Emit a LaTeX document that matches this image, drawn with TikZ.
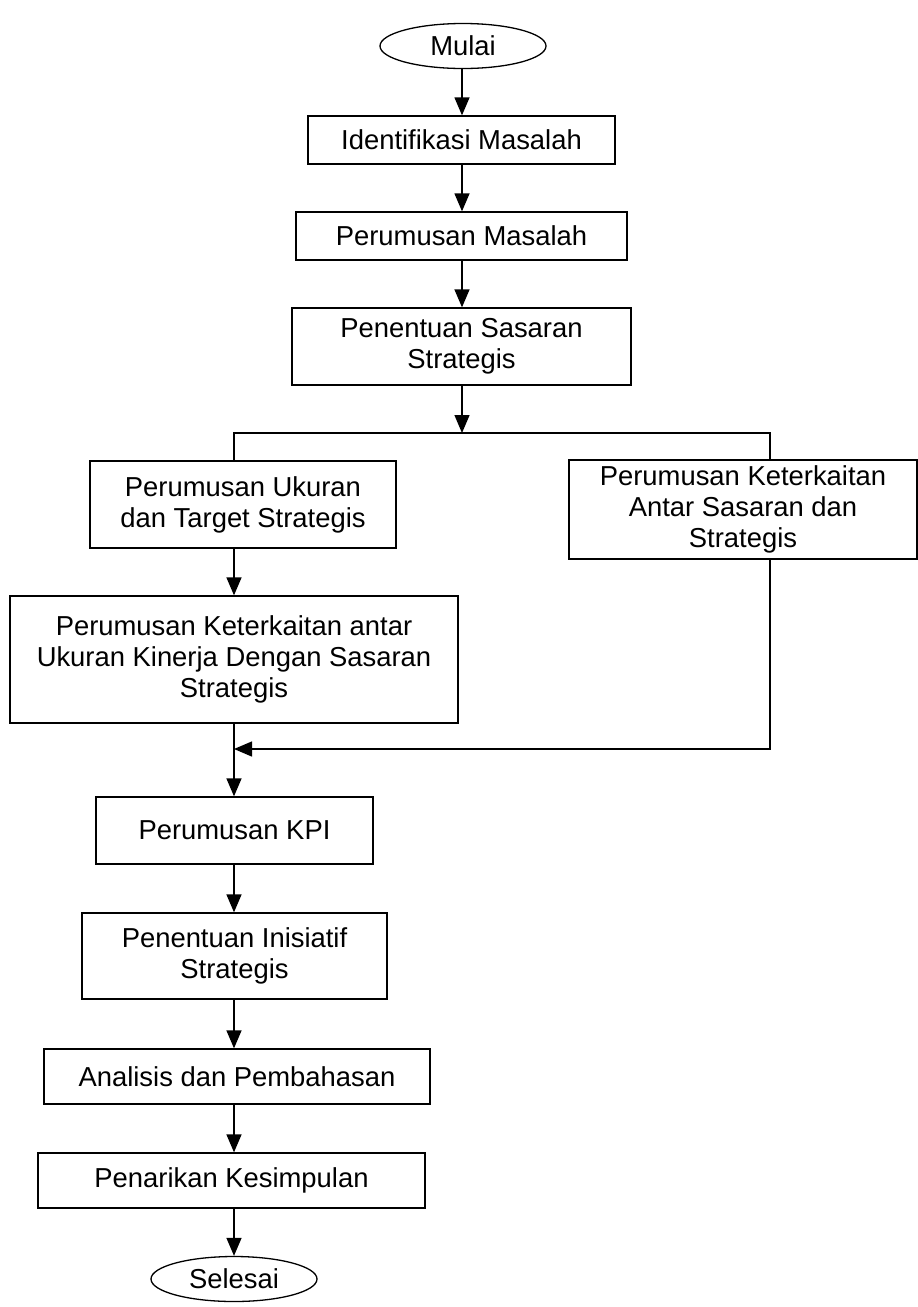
\documentclass[tikz,border=0pt]{standalone}
\usepackage{fontspec}
\setmainfont{Liberation Sans}
\usetikzlibrary{shapes.geometric,arrows.meta}
\tikzset{
  base/.style={draw, line width=1.3pt, inner sep=0pt, align=center,
    font=\fontsize{27.4}{31}\selectfont},
  procbox/.style={base, rectangle},
  terminal/.style={base, ellipse, minimum width=166pt, minimum height=45pt},
  flow/.style={line width=1.3pt, -{Triangle[length=18pt,width=15pt]}},
  link/.style={line width=1.3pt}
}
\begin{document}
\begin{tikzpicture}[x=1pt,y=-1pt]
\useasboundingbox (0,0) rectangle (918,1307);

% vertical guide lines for the connectors
\coordinate (topspine) at (462,0);
\coordinate (spine) at (234,0);
\coordinate (rspine) at (770,0);

% start and upper chain
\node[terminal] (mulai) at (463,46) {Mulai};
\node[procbox, minimum width=307pt, minimum height=48pt] (idm) at (461.5,140) {Identifikasi Masalah};
\node[procbox, minimum width=331pt, minimum height=48pt] (pm) at (461.5,236) {Perumusan Masalah};
\node[procbox, minimum width=339pt, minimum height=77pt] (pss) at (461.5,346.5) {Penentuan Sasaran\\Strategis};

% two branches
\node[procbox, minimum width=306pt, minimum height=87pt] (pum) at (243,504.5) {Perumusan Ukuran\\dan Target Strategis};
\node[procbox, minimum width=348pt, minimum height=99pt] (pka) at (743,509.5) {Perumusan Keterkaitan\\Antar Sasaran dan\\Strategis};
\node[procbox, minimum width=448pt, minimum height=127pt] (pkk) at (234,659.5) {Perumusan Keterkaitan antar\\Ukuran Kinerja Dengan Sasaran\\Strategis};

% lower chain
\node[procbox, minimum width=277pt, minimum height=67pt] (kpi) at (234.5,830.5) {Perumusan KPI};
\node[procbox, minimum width=305pt, minimum height=86pt] (pis) at (234.5,956) {Penentuan Inisiatif\\Strategis};
\node[procbox, minimum width=386pt, minimum height=55pt] (adp) at (237,1076.5) {Analisis dan Pembahasan};
\node[procbox, minimum width=387pt, minimum height=55pt] (pk) at (231.5,1180.5) {Penarikan Kesimpulan};
\node[terminal] (selesai) at (234,1279) {Selesai};

\coordinate (split) at (462,433);
\coordinate (merge) at (234,749);

% connectors
\draw[flow] (mulai.south -| topspine) -- (idm.north -| topspine);
\draw[flow] (idm.south -| topspine) -- (pm.north -| topspine);
\draw[flow] (pm.south -| topspine) -- (pss.north -| topspine);
\draw[flow] (pss.south -| topspine) -- (split);
\draw[link] (pum.north -| spine) -- (spine |- split) -- (rspine |- split) -- (pka.north -| rspine);
\draw[flow] (pum.south -| spine) -- (pkk.north -| spine);
\draw[flow] (pkk.south -| spine) -- (kpi.north -| spine);
\draw[flow] (pka.south -| rspine) |- (merge);
\draw[flow] (kpi.south -| spine) -- (pis.north -| spine);
\draw[flow] (pis.south -| spine) -- (adp.north -| spine);
\draw[flow] (adp.south -| spine) -- (pk.north -| spine);
\draw[flow] (pk.south -| spine) -- (selesai.north -| spine);
\end{tikzpicture}
\end{document}
